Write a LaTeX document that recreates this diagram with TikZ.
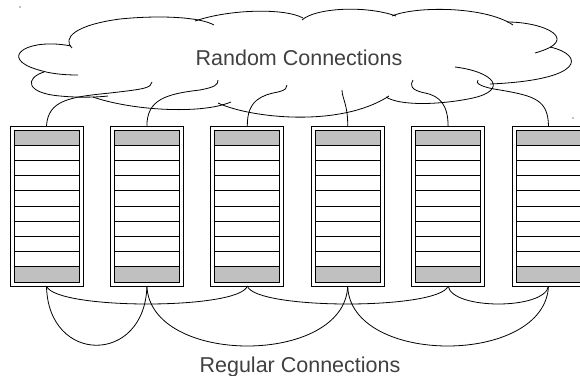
\documentclass[tikz,border=0pt]{standalone}
\usepackage{fontspec}
\setmainfont{Liberation Sans}
\usetikzlibrary{calc}
\definecolor{slotgray}{RGB}{192,192,192}
\definecolor{textgray}{RGB}{64,64,64}

\begin{document}
\begin{tikzpicture}[x=1pt,y=-1pt,line width=0.9pt,
	rack/.style={draw,fill=white,minimum width=73pt,minimum height=160pt,inner sep=0pt,outer sep=0pt},
	cloudtext/.style={text=textgray,font=\fontsize{21.5}{24}\selectfont,anchor=base,inner sep=0pt},
	wire/.style={line width=0.8pt}]
	\useasboundingbox (0,0) rectangle (580,375);
	\clip (0,0) rectangle (580,375);

	% racks
	\foreach \i in {1,...,6}{
		\pgfmathsetmacro{\x}{46.5+100.4*(\i-1)}
		\node[rack] (rack\i) at (\x,206) {};
		\fill[slotgray] (\x-32.5,130) rectangle (\x+32.5,145.2);
		\fill[slotgray] (\x-32.5,266.8) rectangle (\x+32.5,282);
		\foreach \k in {1,...,9}
			\draw (\x-32.5,130+15.2*\k) -- (\x+32.5,130+15.2*\k);
		\draw (\x-32.5,130) rectangle (\x+32.5,282);
	}

	% cloud
	\draw[wire] (72,48) .. controls (62,38) and (75,25) .. (120,19) .. controls (160,15) and (200,17) .. (214,25);
	\draw[wire] (195,21) .. controls (230,9) and (285,8) .. (303,18);
	\draw[wire] (302,20) .. controls (315,8) and (365,5) .. (396,16);
	\draw[wire] (392,16) .. controls (415,6) and (485,6) .. (513,25);
	\draw[wire] (507,22) .. controls (545,22) and (582,40) .. (535,53);
	\draw[wire] (550,47) .. controls (585,55) and (585,80) .. (490,84);
	\draw[wire] (455,67) .. controls (495,72) and (508,90) .. (473,98) .. controls (440,105) and (400,106) .. (386,97);
	\draw[wire] (218,103) .. controls (250,118) and (340,128) .. (389,96);
	\draw[wire] (93,97) .. controls (130,110) and (200,115) .. (231,102);
	\draw[wire] (44,72) .. controls (25,78) and (25,93) .. (60,96) .. controls (80,98) and (100,97) .. (108,96);
	\draw[wire] (71,46) .. controls (30,38) and (2,55) .. (30,67) .. controls (45,73) and (60,75) .. (78,75);
	\node[cloudtext] (random) at (299,65) {Random Connections};

	% loose ends of the random links
	\coordinate (c1) at (152,82);
	\coordinate (c2) at (218,80);
	\coordinate (c3) at (287,85);
	\coordinate (c4) at (342,90);
	\coordinate (c5) at (413,80);
	\coordinate (c6) at (478,80);

	\draw[wire] (rack1.north) .. controls (48,100) and (70,97) .. (110,93) .. controls (145,89) and (151,88) .. (c1);
	\draw[wire] (rack2.north) .. controls (147,100) and (165,94) .. (200,90) .. controls (215,87) and (218,85) .. (c2);
	\draw[wire] (rack3.north) .. controls (247,100) and (262,95) .. (278,92) .. controls (286,90) and (287,88) .. (c3);
	\draw[wire] (rack4.north) .. controls (348,105) and (342,98) .. (c4);
	\draw[wire] (rack5.north) .. controls (448,105) and (440,96) .. (425,93) .. controls (410,90) and (410,85) .. (c5);
	\draw[wire] (rack6.north) .. controls (548,100) and (535,96) .. (500,90) .. controls (480,87) and (475,83) .. (c6);

	% regular links
	\draw[wire] (rack1.south) .. controls (48,365) and (145,365) .. (rack2.south);
	\draw[wire] (rack1.south) .. controls (55,310) and (240,310) .. (rack3.south);
	\draw[wire] (rack2.south) .. controls (150,366) and (345,366) .. (rack4.south);
	\draw[wire] (rack3.south) .. controls (255,310) and (440,310) .. (rack5.south);
	\draw[wire] (rack4.south) .. controls (350,366) and (545,366) .. (rack6.south);
	\draw[wire] (rack5.south) .. controls (452,310) and (545,310) .. (rack6.south);
	\node[cloudtext] (regular) at (300,372) {Regular Connections};

	% stray marks
	\fill (20,7) circle (0.7);
	\fill (573,118) circle (0.7);
\end{tikzpicture}
\end{document}
